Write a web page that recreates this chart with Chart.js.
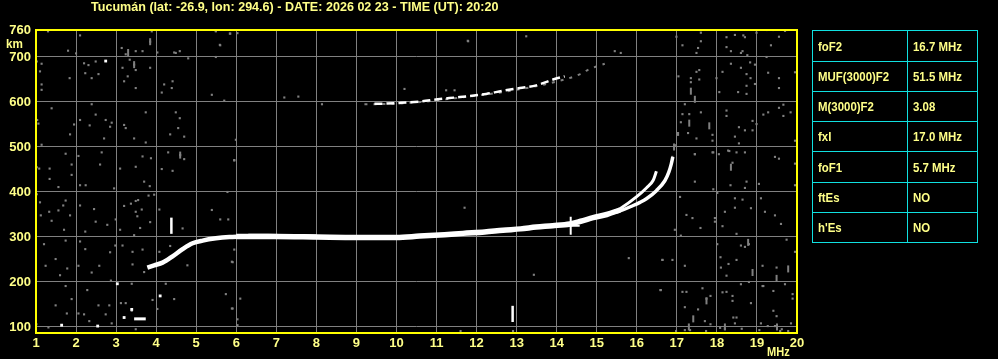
<!DOCTYPE html>
<html><head><meta charset="utf-8">
<script src="https://cdn.jsdelivr.net/npm/chart.js@4/dist/chart.umd.min.js"></script>
<style>
html,body{margin:0;padding:0;background:#000;width:998px;height:359px;overflow:hidden;}
#wrap{position:relative;width:998px;height:359px;}
#c{position:absolute;left:0;top:0;}
.txt{position:absolute;color:#ffff88;font:bold 13px 'Liberation Sans',Arial,sans-serif;white-space:nowrap;line-height:14px;transform-origin:0 50%;}
#tbl{position:absolute;left:812px;top:30px;border-collapse:collapse;width:166px;}
#tbl td{border:1px solid #10e0e0;color:#ffff88;font:bold 13px 'Liberation Sans',Arial,sans-serif;padding:0 0 0 5px;white-space:nowrap;}
#tbl td.k{width:89px;}
#tbl td span{display:inline-block;transform:scaleX(0.88);transform-origin:0 50%;}
</style></head>
<body><div id="wrap">
<canvas id="c" width="998" height="359"></canvas>
<div class="txt" id="title" style="left:91px;top:0px;">Tucumán (lat: -26.9, lon: 294.6) - DATE: 2026 02 23 - TIME (UT): 20:20</div>
<div class="txt" style="left:6px;top:37px;transform:scaleX(0.9);">km</div>
<div class="txt" style="left:767px;top:345px;transform:scaleX(0.85);">MHz</div>
<table id="tbl"></table>
</div>
<script>
// ---- data ----
const freqTicks = [1,2,3,4,5,6,7,8,9,10,11,12,13,14,15,16,17,18,19,20];
const heightTicks = [100,200,300,400,500,600,700,760];
const paramNames = ['foF2','MUF(3000)F2','M(3000)F2','fxI','foF1',"ftEs","h'Es"];
const paramValues = ['16.7 MHz','51.5 MHz','3.08','17.0 MHz','5.7 MHz','NO','NO'];

// F2 trace (frequency MHz, virtual height km)
const f2LowFreq = [3.78,3.95,4.16,4.41,4.66,4.91,5.16,5.49,5.83,6.1];
const f2LowKm   = [232,237,243,257,273,286,292,297,300,301];
const f2Freq = [6.0,7.0,8.0,9.0,10.0,10.58,11.2,11.66,12.2,12.66,13.1,13.49,13.9,14.33,14.6,14.91,15.25,15.58];
const f2Km   = [301,301,300,299,299,302,305,308,311,315,318,322,325,329,335,343,350,360];
const f2ThickFreq = [6.3,6.8,7.4,8.0];
const f2ThickKm   = [304,304,303,302];
const outerFreq = [15.3,15.58,15.91,16.08,16.24,16.49,16.7,16.8,16.86,16.9];
const outerKm   = [352,358,370,377,385,403,425,444,462,478];
const innerFreq = [15.4,15.6,15.99,16.24,16.41,16.49];
const innerKm   = [355,364,389,409,426,446];
// second-hop trace
const hopFreq = [9.45,9.53,10.08,10.58,11.03,11.58,12.24,12.66,13.08,13.49,13.91,14.2];
const hopKm   = [596,596,598,601,606,611,618,625,631,637,650,657];
const hopGreyFreq = [9.2,9.4,10.6,11.6,12.5,13.3,13.7,14.59,14.77,14.99,15.2];
const hopGreyKm   = [595,595,600,610,620,632,639,662,671,679,685];
// white echo marks
const barA = [[4.38,307],[4.38,343]];
const barB = [[12.9,111],[12.9,147]];
const barC = [[3.45,118],[3.74,118]];
const whiteDots = [[3.2,121],[3.39,139],[3.03,196],[4.1,169],[2.74,691],[1.64,104],[2.54,102]];
const marker = [[14.35,325]];
// grey noise echoes
const noise = [
[1.3,757],[1.8,714],[2.1,748],[2.0,708],[2.2,686],[2.31,682],[1.84,653],[1.14,685],[1.1,668],[1.14,639],[1.14,627],[2.23,664],[2.39,653],[2.56,662],[2.49,690],[2.85,545],[2.49,572],[2.74,560],[2.39,595],[2.1,560],[2.34,548],[1.95,550],[1.39,586],[1.85,528],[1.06,552],[1.14,505],[2.7,519],[1.74,485],[1.89,461],[1.89,438],[2.06,480],[2.6,461],[2.64,488],[2.1,415],[2.24,415],[1.08,452],[1.34,452],[1.34,429],[1.56,411],[1.1,377],[1.12,348],[1.33,356],[1.56,359],[1.68,370],[1.74,381],[1.85,348],[1.39,336],[1.7,316],[2.1,370],[2.45,362],[2.49,334],[2.23,312],[2.78,327],[1.2,284],[1.74,292],[2.1,290],[2.23,273],[1.49,251],[1.24,236],[1.78,230],[1.6,215],[2.06,236],[2.39,221],[2.58,236],[2.85,266],[1.74,191],[1.89,162],[1.49,148],[1.77,130],[2.06,130],[2.2,128],[2.28,182],[2.56,148],[2.74,128],[2.83,148],[2.33,113],[1.31,99],[1.01,106],[1.02,690],[1.03,560],[1.02,455],[1.02,395],
[3.89,757],[3.85,734],[3.66,713],[3.49,713],[3.24,706],[3.14,720],[3.34,694],[3.16,676],[3.45,683],[3.49,671],[3.85,676],[3.29,657],[3.2,646],[3.49,631],[4.2,639],[4.41,646],[4.39,631],[4.14,621],[4.49,709],[4.59,713],[4.8,697],[5.39,616],[5.49,757],[5.84,752],[5.6,726],[5.49,700],[5.7,603],[3.74,577],[3.2,549],[3.24,542],[3.45,519],[2.89,554],[4.49,577],[4.59,564],[4.55,542],[4.35,528],[4.7,523],[3.74,510],[5.99,516],[3.66,479],[3.87,475],[4.3,488],[4.6,482],[4.7,473],[3.1,452],[3.49,456],[4.14,451],[4.41,447],[3.7,423],[3.84,413],[5.95,471],[2.95,408],[3.95,394],[3.81,392],[5.78,400],[3.2,369],[3.49,380],[3.55,382],[3.37,374],[3.64,361],[3.49,356],[3.53,346],[3.85,333],[3.6,320],[3.1,316],[3.45,304],[4.08,361],[4.66,319],[5.39,360],[5.8,339],[5.6,339],[2.99,339],[3.16,281],[3.41,267],[3.66,272],[3.41,239],[3.7,222],[4.08,267],[4.35,280],[4.78,237],[5.91,244],[3.39,196],[4.24,196],[3.91,160],[4.45,162],[5.74,173],[5.91,141],[3.12,153],[3.24,153],[3.39,136],[2.89,108],[3.49,95],[4.03,140],[2.98,281],[2.87,203],
[4.49,763],[5.49,758],[6.03,753],[5.59,727],[4.03,710],[4.45,710],[11.78,736],
[5.95,272],[5.89,245],[13.43,216],[15.8,253],[16.64,249],[16.6,182],[6.1,163],[5.89,141],[6.03,117],[6.03,104],[11.6,91],[12.91,91],[5.85,752],[11.79,735],[13.24,746],[7.2,610],[7.55,612],[8.14,595],[5.95,470],[11.7,365],[10.2,629],[11.24,626],[11.45,626],[15.45,713],[15.6,709],
[16.95,504],[16.89,478],[17.45,484],[17.91,488],[18.05,484],[18.31,491],[18.49,488],[18.7,488],[18.39,465],[17.45,423],[17.91,406],[18.34,415],[18.74,423],[18.7,409],[19.05,418],[19.45,478],[19.55,474],[19.95,463],[19.95,415],[17.08,389],[18.01,398],[18.45,386],[18.64,383],[19.1,386],[17.24,349],[17.39,342],[17.59,320],[17.95,342],[17.95,334],[18.14,324],[18.49,307],[18.2,356],[18.45,365],[18.85,364],[19.2,356],[19.45,348],[19.6,329],[19.74,294],[19.95,267],[16.95,316],[17.1,303],[18.01,284],[18.6,281],[18.7,278],[18.8,284],[18.09,255],[18.29,240],[18.49,249],[18.1,232],[18.24,214],[19.14,236],[19.49,232],[19.14,191],[19.7,195],[16.64,249],[16.89,249],[17.2,236],[16.59,182],[17.14,178],[17.24,178],[17.64,186],[17.84,169],[17.74,163],[17.2,144],[17.53,139],[17.7,113],[17.84,106],[18.14,177],[18.24,178],[18.39,169],[18.39,158],[18.6,195],[18.8,200],[18.85,153],[18.41,121],[18.49,121],[18.08,98],[18.2,96],[18.45,108],[18.62,96],[19.16,191],[19.41,180],[19.41,136],[19.49,124],[19.1,108],[19.27,102],[19.45,102],[19.62,95],[19.85,108],[19.89,173],[19.89,163],[16.98,91],[17.2,93],[17.33,93],[17.73,91],[19.06,93],[19.58,91],[19.78,91],
[17.58,760],[17.6,754],[17.6,735],[17.53,720],[17.49,709],[16.99,745],[17.14,726],[18.24,744],[18.45,749],[18.66,748],[18.7,744],[18.99,754],[19.24,760],[19.41,760],[19.74,760],[19.7,758],[19.55,745],[19.35,726],[18.24,722],[18.35,713],[18.6,709],[18.64,713],[18.76,704],[19.24,700],[19.95,666],[19.28,665],[19.55,653],[19.55,631],[18.83,688],[18.95,683],[18.6,676],[18.35,685],[18.14,667],[18.74,662],[18.84,653],[18.74,636],[18.95,640],[18.53,622],[18.74,618],[18.06,622],[17.99,653],[17.56,671],[17.49,667],[17.35,653],[17.35,644],[17.56,650],[17.04,657],[17.2,595],[17.14,573],[17.31,573],[17.6,577],[17.1,555],[18.24,581],[18.24,569],[18.89,558],[18.99,551],[18.55,544],[18.7,537],[18.89,537],[18.45,523],[18.55,508],[19.16,572],[19.28,577],[19.55,587],[19.66,594],[19.84,577],[19.66,569],[19.95,514],[17.89,527],[17.89,514],[17.49,519],[17.28,531],[17.03,531],[17.03,527],[17.45,484],[17.89,488],[18.28,492]
];
const streaks = [[17.35,624],[17.45,606],[17.81,547],[17.31,553],[18.35,455],[18.89,221],[18.78,288],[19.78,229],[19.49,208],[17.41,118],[3.85,734],[4.6,482],[3.3,710],[16.93,500],[17.74,158],[18.2,100],[19.5,100],[17.3,100],[3.45,683]];

// ---- build ----
const pts = (fx, ky) => fx.map((f,i)=>({x:f,y:ky[i]}));
const pairs = a => a.map(p=>({x:p[0],y:p[1]}));
const tbl = document.getElementById('tbl');
const rowH = [31,30,30,30,31,30,30];
paramNames.forEach((n,i)=>{
  const tr=document.createElement('tr');
  tr.innerHTML='<td class="k" style="height:'+(rowH[i]-1)+'px"><span>'+n+'</span></td><td style="height:'+(rowH[i]-1)+'px"><span>'+paramValues[i]+'</span></td>';
  tbl.appendChild(tr);
});
const title=document.getElementById('title');
title.style.transform='scaleX('+(407/title.offsetWidth).toFixed(3)+')';

const FONT = {family:"'Liberation Sans',Arial,sans-serif", size:13, weight:'bold'};
const W='#ffffff', G='#808080';
const lineDs = (data,width,color,order,extra) => Object.assign({type:'line',data,borderColor:color,borderWidth:width,pointRadius:0,fill:false,cubicInterpolationMode:'monotone',borderCapStyle:'butt',order},extra||{});

const frame = {id:'frame',afterDraw(ch){const a=ch.chartArea,c=ch.ctx;c.save();c.strokeStyle='#ffff00';c.lineWidth=2;c.strokeRect(a.left,a.top,a.right-a.left,a.bottom-a.top);c.restore();}};
const bg = {id:'bg',beforeDraw(ch){const c=ch.ctx;c.save();c.fillStyle='#000';c.fillRect(0,0,ch.width,ch.height);c.restore();}};

new Chart(document.getElementById('c'),{
  type:'scatter',
  data:{datasets:[
    {data:pairs(noise),pointStyle:'rect',pointRadius:1.5,backgroundColor:G,borderWidth:0,order:20},
    {data:pairs(streaks),pointStyle:'line',rotation:90,pointRadius:3.5,borderColor:G,borderWidth:2,order:19},
    lineDs(pts(hopGreyFreq,hopGreyKm),2,G,15,{borderDash:[3,6]}),
    lineDs(pts(hopFreq,hopKm),2.5,W,5,{borderDash:[8,4]}),
    lineDs(pts(f2LowFreq,f2LowKm),4.5,W,3),
    lineDs(pts(f2Freq,f2Km),5.5,W,3),
    lineDs(pts(f2ThickFreq,f2ThickKm),3,W,3),
    lineDs(pts(outerFreq,outerKm),3.5,W,3),
    lineDs(pts(innerFreq,innerKm),3,W,3),
    lineDs(pairs(barA),2.5,W,2,{cubicInterpolationMode:'default'}),
    lineDs(pairs(barB),2.5,W,2,{cubicInterpolationMode:'default'}),
    lineDs(pairs(barC),3,W,2,{cubicInterpolationMode:'default'}),
    {data:pairs(whiteDots),pointStyle:'rect',pointRadius:2,backgroundColor:W,borderWidth:0,order:2},
    {data:pairs(marker),pointStyle:'cross',pointRadius:9,borderColor:W,borderWidth:2,order:1}
  ]},
  options:{
    responsive:false,animation:false,
    layout:{padding:{top:30,right:201,left:0,bottom:0}},
    plugins:{legend:{display:false},tooltip:{enabled:false},title:{display:false}},
    scales:{
      x:{type:'linear',min:1,max:20,
        afterBuildTicks(s){s.ticks=freqTicks.map(v=>({value:v}));},
        afterFit(s){s.height=26;},
        grid:{color:G,lineWidth:1,drawTicks:false},border:{display:false},
        ticks:{color:'#ffff88',font:FONT,padding:3,maxRotation:0,autoSkip:false}},
      y:{type:'linear',min:86.6,max:760,
        afterBuildTicks(s){s.ticks=heightTicks.map(v=>({value:v}));},
        afterFit(s){s.width=36;},
        grid:{color:G,lineWidth:1,drawTicks:false},border:{display:false},
        ticks:{color:'#ffff88',font:FONT,padding:5,autoSkip:false}}
    }
  },
  plugins:[bg,frame]
});
</script>
</body></html>
